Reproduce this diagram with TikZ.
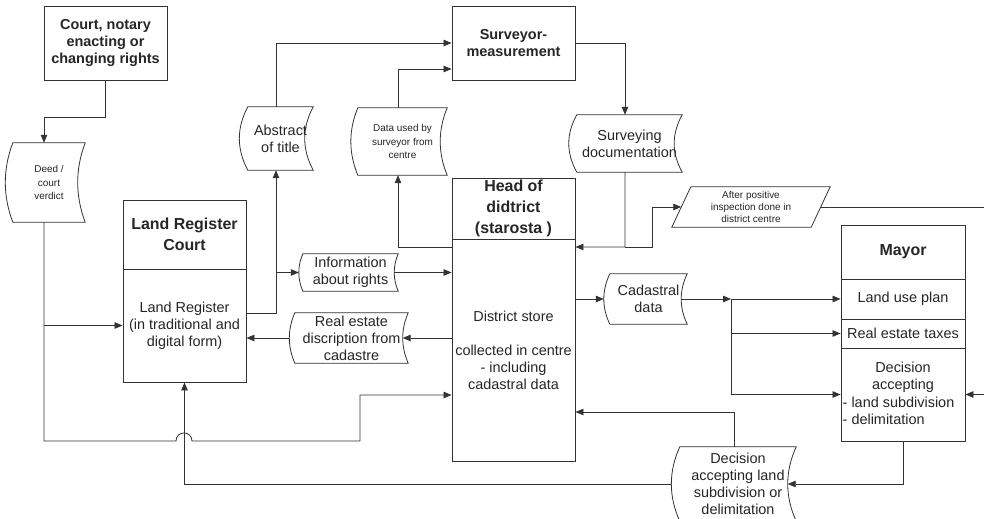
\documentclass[tikz,border=0pt]{standalone}
\usepackage{fontspec}
\setmainfont{Liberation Sans}
\usetikzlibrary{arrows.meta,calc}
\newcommand\normtext{\fontsize{14.5}{17}\selectfont}
\newcommand\smalltext{\fontsize{10}{13.5}\selectfont}
\newcommand\tinytext{\fontsize{10}{12}\selectfont}
\newcommand\hdtext{\fontsize{14.5}{16.7}\selectfont\bfseries}
\newcommand\bigtext{\fontsize{16}{21}\selectfont\bfseries}
% tape-like document shape: both sides bulge to the left
\newcommand\tapeshape[2]{%
  \draw[shp] (#1.north west) -- (#1.north east)
    .. controls ($(#1.north east)!0.3333!(#1.south east)+(-#2,0)$) and ($(#1.north east)!0.6667!(#1.south east)+(-#2,0)$) .. (#1.south east)
    -- (#1.south west)
    .. controls ($(#1.north west)!0.6667!(#1.south west)+(-#2,0)$) and ($(#1.north west)!0.3333!(#1.south west)+(-#2,0)$) .. (#1.north west) -- cycle;}
\tikzset{
  ln/.style={line width=0.8bp, draw=black!80},
  arr/.style={ln, -{Triangle[length=8bp,width=6.5bp]}},
  shp/.style={line width=0.8bp, draw=black!80},
  bx/.style={draw=black!80, line width=0.9bp, minimum width=123bp, inner sep=0pt,
             align=center, text=black!85, font=\normtext},
  tp/.style={inner sep=0pt, align=center, text=black!85},
}
\begin{document}
\begin{tikzpicture}[x=1bp,y=-1bp]
\fill[white] (0,0) rectangle (984,519);
\useasboundingbox (0,0) rectangle (984,519);

% level coordinates
\coordinate (y69) at (0,69);
\coordinate (y247) at (0,247);
\coordinate (y313) at (0,313);
\coordinate (y395) at (0,395);
\coordinate (y412) at (0,412);

% boxes
\node[bx, minimum height=74bp, font=\hdtext] (cn) at (105.5,43) {Court, notary\\enacting or\\changing rights};
\node[bx, minimum height=74bp, font=\hdtext] (surv) at (513.5,43) {Surveyor-\\measurement};
\node[bx, minimum height=69bp, font=\bigtext] (lrh) at (184.5,234.5) {Land Register\\Court};
\node[bx, minimum height=113bp] (lrb) at (184.5,325.5) {Land Register\\(in traditional and\\digital form)};
\node[bx, minimum height=61bp, font=\bigtext] (head) at (513.5,208.5) {Head of\\didtrict\\(starosta )};
\node[bx, minimum height=222bp] (store) at (513.5,350) {District store\\[17bp]collected in centre\\- including\\cadastral data};

\node[bx, minimum width=124bp, minimum height=54bp, font=\bigtext] (may) at (903,252) {Mayor};
\node[bx, minimum width=124bp, minimum height=40bp] (lup) at (903,299) {Land use plan};
\node[bx, minimum width=124bp, minimum height=29bp] (ret) at (903,333.5) {Real estate taxes};
\node[bx, minimum width=124bp, minimum height=93bp] (mdec) at (903,394.5) {};
\node[tp, font=\normtext] (mdect) at (903,377) {Decision\\accepting};
\node[tp, font=\normtext, anchor=west, align=left] (mdecl) at (842.5,411) {- land subdivision\\- delimitation};

% document (tape) shapes
\node[tp, font=\smalltext, minimum width=72bp, minimum height=79bp] (deed) at (49,182.5) {Deed /\\court\\verdict};
\tapeshape{deed}{10bp}
\node[tp, font=\normtext, minimum width=65bp, minimum height=63bp] (abs) at (280.5,138.5) {Abstract\\of title};
\tapeshape{abs}{11.3bp}
\node[tp, font=\smalltext, minimum width=89bp, minimum height=67bp] (data) at (402.5,141.5) {Data used by\\surveyor from\\centre};
\tapeshape{data}{9.3bp}
\node[tp, font=\normtext, minimum width=105bp, minimum height=57bp] (sdoc) at (629.5,143.5) {Surveying\\documentation};
\tapeshape{sdoc}{10.7bp}
\node[tp, font=\normtext, minimum width=95bp, minimum height=37bp] (info) at (350.5,272.5) {Information\\about rights};
\tapeshape{info}{5.3bp}
\node[tp, font=\normtext, minimum width=113bp, minimum height=50bp] (red) at (351.5,338) {Real estate\\discription from\\cadastre};
\tapeshape{red}{7.3bp}
\node[tp, font=\normtext, minimum width=77bp, minimum height=50bp] (cad) at (648.5,299) {Cadastral\\data};
\tapeshape{cad}{8bp}
\node[tp, font=\normtext, minimum width=116bp, minimum height=74bp] (dec) at (738,484) {Decision\\accepting land\\subdivision or\\delimitation};
\tapeshape{dec}{11.3bp}

% parallelogram
\node[tp, font=\tinytext, minimum width=158bp, minimum height=40bp] (ap) at (751,207) {After positive\\inspection done in\\district centre};
\draw[shp] (ap.south west) -- ([xshift=-19bp]ap.south east) -- (ap.north east) -- ([xshift=19bp]ap.north west) -- cycle;

% free ends at the right edge
\coordinate (rout) at (984,207);
\coordinate (rin) at (984,394.5);
\coordinate (J) at (731,299);

% connectors
\draw[arr] (cn.south) -- ++(0,37) -| ([xshift=-5bp]deed.north);
\draw[arr] ([xshift=-5bp]deed.south) -- (44,441) -- (176,441)
   .. controls (176,430.3) and (192,430.3) .. (192,441) -- (360,441) -- (360,395) -- (store.west |- y395);
\draw[arr] (44,325.5) -- (lrb.west);
\draw[arr] ([xshift=-8.5bp]dec.west) -| (lrb.south);
\draw[arr] ([xshift=-4bp]dec.north) |- (store.east |- y412);
\draw[arr] (mdec.south) |- ([xshift=-8.5bp]dec.east);
\draw[arr] (rin) -- (mdec.east);
\draw[ln] ([xshift=-9.5bp]ap.east) -- (rout);
\draw[arr] ([xshift=-4.5bp]sdoc.south) -- (625,247) -- (store.east |- y247);
\draw[arr] (625,247) -- (652,247) -- (652,207) -- ([xshift=9.5bp]ap.west);
\draw[arr] (surv.east) -| ([xshift=-4.5bp]sdoc.north);
\draw[arr] ([xshift=-4.5bp]abs.north) |- (surv.west);
\draw[arr] ([xshift=-4.5bp]data.north) |- (surv.west |- y69);
\draw[arr] (store.west |- y247) -| ([xshift=-4.5bp]data.south);
\draw[arr] (lrb.east |- y313) -| ([xshift=-4.5bp]abs.south);
\draw[arr] (276,272.5) -- ([xshift=-4bp]info.west);
\draw[arr] ([xshift=-4bp]info.east) -- (store.west |- info.east);
\draw[arr] (store.west |- red.east) -- ([xshift=-5.5bp]red.east);
\draw[arr] ([xshift=-5.5bp]red.west) -- (lrb.east |- red.west);
\draw[arr] (store.east |- cad.west) -- ([xshift=-6bp]cad.west);
\draw[arr] ([xshift=-6bp]cad.east) -- (J);
\draw[arr] (J) -- (lup.west);
\draw[arr] (J) |- (ret.west);
\draw[arr] (J) |- (mdec.west);
\end{tikzpicture}
\end{document}
